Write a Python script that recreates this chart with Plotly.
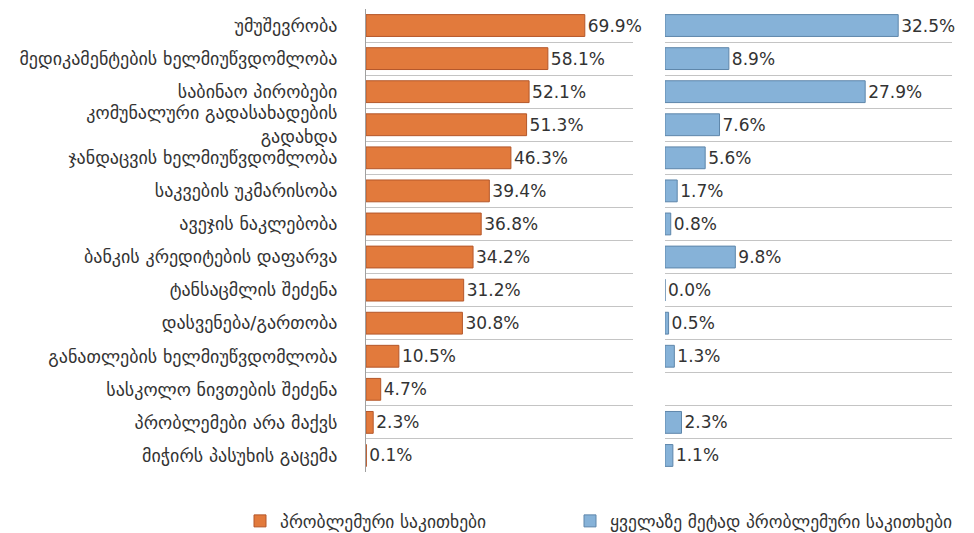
import plotly.graph_objects as go

categories = [
    "უმუშევრობა",
    "მედიკამენტების ხელმიუწვდომლობა",
    "საბინაო პირობები",
    "კომუნალური გადასახადების<br>გადახდა",
    "ჯანდაცვის ხელმიუწვდომლობა",
    "საკვების უკმარისობა",
    "ავეჯის ნაკლებობა",
    "ბანკის კრედიტების დაფარვა",
    "ტანსაცმლის შეძენა",
    "დასვენება/გართობა",
    "განათლების ხელმიუწვდომლობა",
    "სასკოლო ნივთების შეძენა",
    "პრობლემები არა მაქვს",
    "მიჭირს პასუხის გაცემა",
]
problems = [69.9, 58.1, 52.1, 51.3, 46.3, 39.4, 36.8, 34.2, 31.2, 30.8, 10.5, 4.7, 2.3, 0.1]
most_problems = [32.5, 8.9, 27.9, 7.6, 5.6, 1.7, 0.8, 9.8, 0.0, 0.5, 1.3, None, 2.3, 1.1]
series_names = ["პრობლემური საკითხები", "ყველაზე მეტად პრობლემური საკითხები"]

FONT = "DejaVu Sans"
fig = go.Figure()
fig.add_trace(go.Bar(
    y=categories, x=problems, orientation="h", name=series_names[0],
    marker=dict(color="#E27A3C", line=dict(color="#B4572A", width=1)),
    texttemplate="%{x:.1f}%", textposition="outside", cliponaxis=False,
    textfont=dict(family=FONT, size=17, color="#333333"),
    xaxis="x", yaxis="y", width=0.66, legend="legend",
))
fig.add_trace(go.Bar(
    y=categories, x=most_problems, orientation="h", name=series_names[1],
    marker=dict(color="#86B2D8", line=dict(color="#5E86AA", width=1)),
    texttemplate="%{x:.1f}%", textposition="outside", cliponaxis=False,
    textfont=dict(family=FONT, size=17, color="#333333"),
    xaxis="x2", yaxis="y2", width=0.66, legend="legend2",
))

# the page body adds an 8px offset, so the figure is 8px smaller on each axis
W, H = 966, 525
L, R, T, B = 358, 22, 1, 61
pw = W - L - R
d1 = (625 - L) / pw
d2 = (657 - L) / pw

yax = dict(type="category", categoryorder="array", categoryarray=categories,
           autorange="reversed", tickson="boundaries", showgrid=True,
           gridcolor="#C4C4C4", gridwidth=1.3, ticks="", zeroline=False)
leg = dict(orientation="h", xref="container", yref="container",
           xanchor="left", y=12 / H, yanchor="middle",
           font=dict(family=FONT, size=17.5, color="#333333"))
fig.update_layout(
    width=W, height=H, margin=dict(l=L, r=R, t=T, b=B, autoexpand=False),
    paper_bgcolor="white", plot_bgcolor="white",
    font=dict(family=FONT, size=14, color="#333333"),
    barmode="overlay",
    xaxis=dict(domain=[0, d1], range=[0, 85.3], visible=False, fixedrange=True),
    xaxis2=dict(domain=[d2, 1], range=[0, 40], visible=False, fixedrange=True),
    yaxis=dict(**yax, anchor="x", showline=True, linecolor="#A0A0A0", linewidth=1,
               showticklabels=True, ticklabelstandoff=24,
               tickfont=dict(family=FONT, size=18, color="#333333")),
    yaxis2=dict(**yax, anchor="x2", showticklabels=False, showline=False),
    legend=dict(**leg, x=232 / W),
    legend2=dict(**leg, x=562 / W),
    showlegend=True,
)
fig.write_html("out.html")
